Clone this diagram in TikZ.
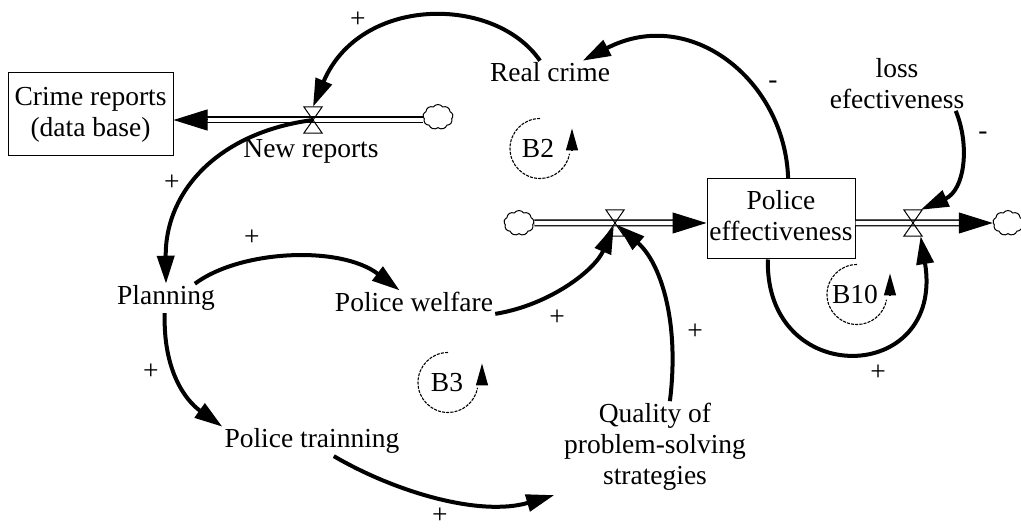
\documentclass[tikz,border=0pt]{standalone}
\usepackage{fontspec}
\setmainfont{Liberation Serif}
\usetikzlibrary{arrows.meta,shapes.symbols}
\begin{document}
\begin{tikzpicture}[x=1pt,y=-1pt,
  every node/.style={font=\fontsize{27.5pt}{31pt}\selectfont, inner sep=2pt},
  lbl/.style={anchor=base},
  ml/.style={align=center},
  stock/.style={draw, line width=1pt, inner sep=0pt},
  valve/.style={minimum width=18pt, minimum height=26pt, inner sep=0pt},
  valveline/.style={line width=1pt, line join=miter},
  sink/.style={cloud, cloud puffs=9, cloud puff arc=110, aspect=1.2, draw, line width=1pt,
               minimum width=30pt, minimum height=25pt, inner sep=0pt},
  pipe/.style={double, double distance=4.4pt, line width=1.3pt},
  pipehead/.style={-{Triangle[length=34pt,width=21pt]}, line width=1pt},
  link/.style={line width=4pt, -{Triangle[length=28pt,width=17pt]}},
  sign/.style={inner sep=0pt},
  loopline/.style={line width=1.1pt, dash pattern=on 3pt off 1.2pt},
  looptip/.style={line width=1.3pt, -{Triangle[length=22pt,width=12pt]}}
]
\useasboundingbox (0,0) rectangle (1021,529);
\clip (0,0) rectangle (1021,529);

% stocks
\node[stock, minimum width=165pt, minimum height=83pt] (crime) at (90.5,114.5)
  {\raisebox{-4pt}{\begin{tabular}{@{}c@{}}Crime reports\\(data base)\end{tabular}}};
\node[stock, minimum width=148pt, minimum height=80pt] (peff) at (781,219)
  {\raisebox{-2pt}{\begin{tabular}{@{}c@{}}Police\\effectiveness\end{tabular}}};

% valves and clouds
\node[valve] (vA) at (313,120) {};
\node[valve] (vB) at (615,223) {};
\node[valve] (vC) at (913,223) {};
\node[sink] (cA) at (438,117) {};
\node[sink] (cB) at (519,223) {};
\node[sink] (cC) at (1008,223) {};

% variables
\node[lbl] (newrep) at (311,158) {New reports};
\node[lbl] (rc) at (550,82) {Real crime};
\node[ml] (loss) at (897,83.5) {loss\\efectiveness};
\node[lbl] (plan) at (166,305) {Planning};
\node[lbl] (welf) at (414,312) {Police welfare};
\node[lbl] (train) at (312,448) {Police trainning};
\node[ml] (qual) at (655,447) {Quality of\\problem-solving\\strategies};

% flow pipes
\coordinate (pA) at (crime.east |- vA);
\draw[pipe] (cA.west |- vA) -- ([xshift=33pt]pA);
\draw[pipehead] ([xshift=34pt]pA) -- (pA);
\coordinate (pB) at (peff.west |- vB);
\draw[pipe] (cB.east) -- ([xshift=-33pt]pB);
\draw[pipehead] ([xshift=-34pt]pB) -- (pB);
\coordinate (pC) at (peff.east |- vC);
\draw[pipe] (pC) -- ([xshift=-33pt]cC.west);
\draw[pipehead] ([xshift=-34pt]cC.west) -- (cC.west);

% causal links
\draw[link] (rc.130) .. controls (495,-5) and (360,-5) .. (vA.north);
\draw[link] (peff.80) .. controls (785,80) and (690,5) .. (rc.20);
\draw[link] (loss.-25) .. controls (970,145) and (965,190) .. (vC.60);
\draw[link] (peff.-108) .. controls (765,390) and (945,385) .. (vC.-60);
\draw[link] (vA.center) .. controls (220,132) and (165,190) .. (plan.north);
\draw[link] (plan.27) .. controls (240,250) and (340,245) .. (welf.140);
\draw[link, shorten >=3pt] (welf.-8) .. controls (550,305) and (595,270) .. (vB.center);
\draw[link, shorten >=3pt] (qual.72) .. controls (680,320) and (660,262) .. (vB.center);
\draw[link] (plan.-95) .. controls (163,370) and (185,400) .. (train.north west);
\draw[link, shorten >=8pt] (train.-34) .. controls (395,492) and (480,517) .. (qual.south west);

% valve symbols
\foreach \v in {vA,vB,vC}
  \draw[valveline] (\v.north west) -- (\v.north east) -- (\v.south west) -- (\v.south east) -- cycle;

% polarities
\node[sign] (s1) at (358,20) {+};
\node[sign] (s2) at (773,85) {-};
\node[sign] (s3) at (983,136) {-};
\node[sign] (s4) at (172,183) {+};
\node[sign] (s5) at (252,238) {+};
\node[sign] (s6) at (557,318) {+};
\node[sign] (s7) at (695,332) {+};
\node[sign] (s8) at (151,372) {+};
\node[sign] (s9) at (440,516) {+};
\node[sign] (s10) at (878,373) {+};

% loop markers
\node (b2) at (538,148.5) {B2};
\node (b3) at (447,382.5) {B3};
\node (b10) at (855,294.5) {B10};
\draw[loopline] (b2) ++(2,-30) arc[start angle=-90, end angle=-350, radius=30];
\draw[looptip] (b2) ++(34,2) -- ++(0,-22);
\draw[loopline] (b3) ++(1,-30) arc[start angle=-90, end angle=-350, radius=30];
\draw[looptip] (b3) ++(35,1) -- ++(0,-20);
\draw[loopline] (b10) ++(2,-30) arc[start angle=-90, end angle=-350, radius=30];
\draw[looptip] (b10) ++(35,1) -- ++(0,-22);
\end{tikzpicture}
\end{document}
